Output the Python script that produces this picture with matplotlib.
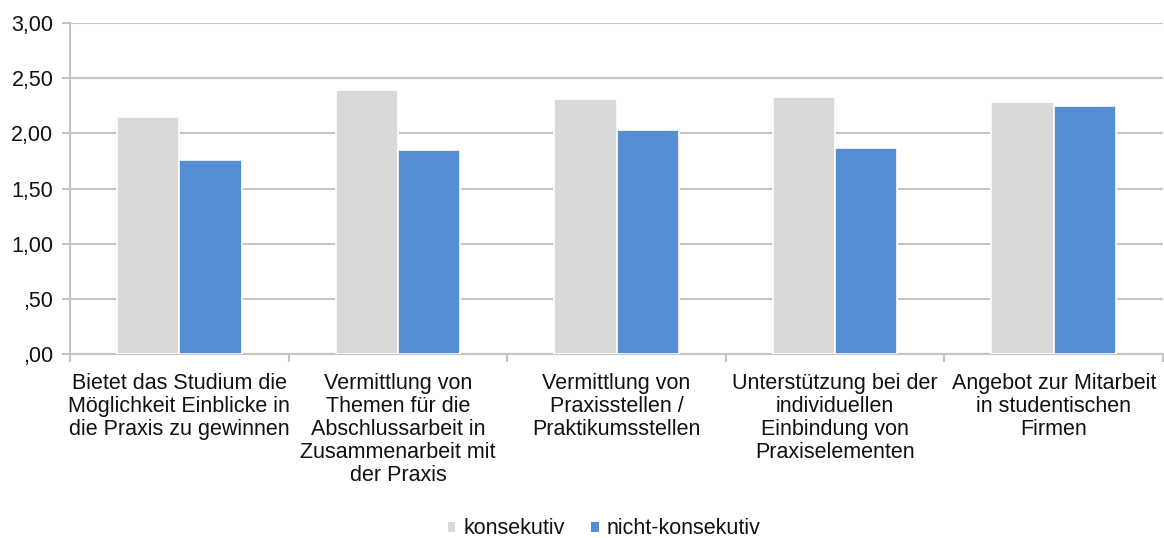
import matplotlib
matplotlib.use("Agg")
import matplotlib.pyplot as plt
import numpy as np

plt.rcParams['font.family'] = ['Liberation Sans', 'DejaVu Sans']

categories = [
    "Bietet das Studium die\nMöglichkeit Einblicke in\ndie Praxis zu gewinnen",
    "Vermittlung von\nThemen für die\nAbschlussarbeit in\nZusammenarbeit mit\nder Praxis",
    "Vermittlung von\nPraxisstellen /\nPraktikumsstellen",
    "Unterstützung bei der\nindividuellen\nEinbindung von\nPraxiselementen",
    "Angebot zur Mitarbeit\nin studentischen\nFirmen",
]
konsekutiv = [2.15, 2.39, 2.31, 2.33, 2.28]
nicht_konsekutiv = [1.76, 1.85, 2.03, 1.87, 2.25]
series_names = ["konsekutiv", "nicht-konsekutiv"]
yticks = [0, 0.5, 1.0, 1.5, 2.0, 2.5, 3.0]
yticklabels = [",00", ",50", "1,00", "1,50", "2,00", "2,50", "3,00"]

FS = 15.5
fig = plt.figure(figsize=(11.64, 5.38), dpi=100)
ax = fig.add_axes([70/1164, 1-354/538, 1093/1164, 331/538])

x = np.arange(len(categories))
w = 0.285
ax.bar(x - w/2, konsekutiv, w, color="#d9d9d9", edgecolor="white", linewidth=1.2,
       label=series_names[0], zorder=3)
ax.bar(x + w/2, nicht_konsekutiv, w, color="#558ed5", edgecolor="white", linewidth=1.2,
       label=series_names[1], zorder=3)

ax.set_xlim(-0.5, len(categories) - 0.5)
ax.set_ylim(0, 3.0)
ax.set_yticks(yticks)
ax.set_yticklabels(yticklabels, fontsize=FS, color="#111111")
ax.yaxis.grid(True, color="#c4c4c4", linewidth=1.5, zorder=0)
ax.set_axisbelow(True)

ax.set_xticks(np.arange(len(categories) + 1) - 0.5, minor=False)
ax.set_xticklabels([])
ax.tick_params(axis='x', which='major', length=6, width=1.5, color="#c4c4c4", direction='out')
ax.set_xticks(x, minor=True)
ax.set_xticklabels(categories, minor=True, fontsize=FS, color="#111111", linespacing=1.12,
                   va='top')
ax.tick_params(axis='x', which='minor', length=0, pad=14)
ax.tick_params(axis='y', length=6, width=1.5, color="#c4c4c4", pad=6)

for s in ["top", "right"]:
    ax.spines[s].set_visible(False)
for s in ["left", "bottom"]:
    ax.spines[s].set_color("#c4c4c4")
    ax.spines[s].set_linewidth(1.5)

leg = fig.legend(loc="center", bbox_to_anchor=(604/1164, 1-529/538), ncol=2, frameon=False,
                 fontsize=FS, handlelength=0.37, handleheight=0.37, handletextpad=0.37,
                 columnspacing=1.2, borderpad=0, borderaxespad=0)
for t in leg.get_texts():
    t.set_color("#111111")
for h in leg.legend_handles:
    h.set_edgecolor("none")

fig.savefig("out.png", dpi=100)
